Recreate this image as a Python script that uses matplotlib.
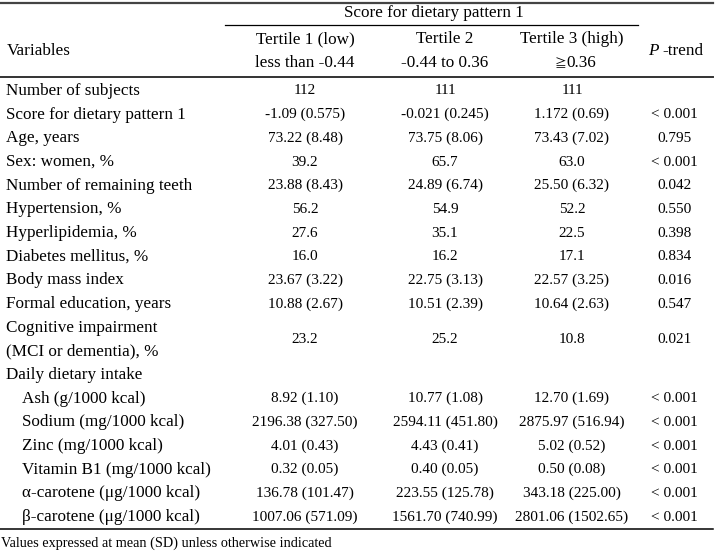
import matplotlib.pyplot as plt

variables = ['Number of subjects', 'Score for dietary pattern 1', 'Age, years', 'Sex: women, %',
             'Number of remaining teeth', 'Hypertension, %', 'Hyperlipidemia, %', 'Diabetes mellitus, %',
             'Body mass index', 'Formal education, years',
             'Cognitive impairment\n(MCI or dementia), %', 'Daily dietary intake',
             'Ash (g/1000 kcal)', 'Sodium (mg/1000 kcal)', 'Zinc (mg/1000 kcal)', 'Vitamin B1 (mg/1000 kcal)',
             'α-carotene (μg/1000 kcal)', 'β-carotene (μg/1000 kcal)']
tertile1 = ['112', '-1.09 (0.575)', '73.22 (8.48)', '39.2', '23.88 (8.43)', '56.2', '27.6', '16.0',
            '23.67 (3.22)', '10.88 (2.67)', '23.2', '', '8.92 (1.10)', '2196.38 (327.50)', '4.01 (0.43)',
            '0.32 (0.05)', '136.78 (101.47)', '1007.06 (571.09)']
tertile2 = ['111', '-0.021 (0.245)', '73.75 (8.06)', '65.7', '24.89 (6.74)', '54.9', '35.1', '16.2',
            '22.75 (3.13)', '10.51 (2.39)', '25.2', '', '10.77 (1.08)', '2594.11 (451.80)', '4.43 (0.41)',
            '0.40 (0.05)', '223.55 (125.78)', '1561.70 (740.99)']
tertile3 = ['111', '1.172 (0.69)', '73.43 (7.02)', '63.0', '25.50 (6.32)', '52.2', '22.5', '17.1',
            '22.57 (3.25)', '10.64 (2.63)', '10.8', '', '12.70 (1.69)', '2875.97 (516.94)', '5.02 (0.52)',
            '0.50 (0.08)', '343.18 (225.00)', '2801.06 (1502.65)']
p_trend = ['', '< 0.001', '0.795', '< 0.001', '0.042', '0.550', '0.398', '0.834', '0.016', '0.547',
           '0.021', '', '< 0.001', '< 0.001', '< 0.001', '< 0.001', '< 0.001', '< 0.001']
# rows with an indent (dietary items)
indented = [12, 13, 14, 15, 16, 17]
tertile_names = ['Tertile 1 (low)', 'Tertile 2', 'Tertile 3 (high)']
tertile_ranges = ['less than -0.44', '-0.44 to 0.36', '0.36']

fam = ['Liberation Serif', 'Noto Sans CJK JP']
plt.rcParams['font.family'] = fam

fig = plt.figure(figsize=(7.16, 5.52), dpi=100)
ax = fig.add_axes([0, 0, 1, 1])
ax.set_xlim(0, 716)
ax.set_ylim(552, 0)
ax.axis('off')

lab_fs = 12.3
num_fs = 11
col_x = [305, 445, 572]
p_x = 674
row_h = 23.67

# rules
ax.plot([0, 713], [2.5, 2.5], color='#444444', lw=1.6)
ax.plot([225, 638], [25, 25], color='black', lw=0.9)
ax.plot([0, 713], [77, 77], color='#333333', lw=1.4)
ax.plot([0, 713], [529, 529], color='black', lw=1.1)

# header
ax.text(434, 13, 'Score for dietary pattern 1', fontsize=lab_fs, ha='center', va='center')
ax.text(7, 51, 'Variables', fontsize=lab_fs, ha='left', va='center')
for x, name in zip(col_x, tertile_names):
    ax.text(x, 39, name, fontsize=lab_fs, ha='center', va='center')
ax.text(col_x[0], 63, tertile_ranges[0], fontsize=lab_fs, ha='center', va='center')
ax.text(col_x[1], 63, tertile_ranges[1], fontsize=lab_fs, ha='center', va='center')
# small "≧" sign before the last range
ax.text(566, 64, '≧', fontsize=8.5, ha='right', va='center', family='Noto Sans CJK JP')
ax.text(566, 63, tertile_ranges[2], fontsize=lab_fs, ha='left', va='center')
ax.text(648, 51, 'P', fontsize=lab_fs, ha='left', va='center', style='italic')
ax.text(662, 51, '-trend', fontsize=lab_fs, ha='left', va='center')

# body
row = 0
for i, name in enumerate(variables):
    y = 91 + row * row_h
    nlines = name.count('\n') + 1
    yc = y + (nlines - 1) * row_h / 2
    x0 = 22 if i in indented else 6
    for k, line in enumerate(name.split('\n')):
        ax.text(x0, y + k * row_h, line, fontsize=lab_fs, ha='left', va='center')
    for x, vals in zip(col_x, [tertile1, tertile2, tertile3]):
        ax.text(x, yc, vals[i], fontsize=num_fs, ha='center', va='center')
    ax.text(p_x, yc, p_trend[i], fontsize=num_fs, ha='center', va='center')
    row += nlines

ax.text(1, 543, 'Values expressed at mean (SD) unless otherwise indicated', fontsize=10.3,
        ha='left', va='center')

fig.savefig('out.png', dpi=100)
